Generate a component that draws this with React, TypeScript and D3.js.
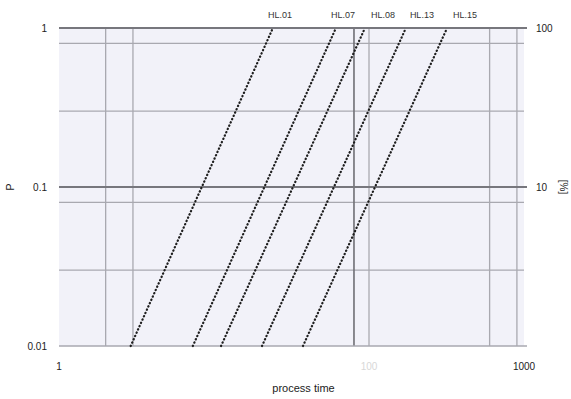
import React, { useEffect, useRef } from 'react';
import * as d3 from 'd3';

// series: x at y = 0.01 and at y = 1
const seriesNames = ['HL.01', 'HL.07', 'HL.08', 'HL.13', 'HL.15'];
const xAtLow = [2.9, 7.3, 11.1, 20.4, 37.5];
const xAtHigh = [24.0, 61.2, 94.2, 173, 319];
const yLow = 0.01;
const yHigh = 1;

const xTicks = [1, 100, 1000];
const xTickLabels = ['1', '100', '1000'];
const xMinorGrid = [2, 3, 100, 600, 900];
const xRefLine = 80;

const yTicks = [1, 0.1, 0.01];
const yTickLabels = ['1', '0.1', '0.01'];
const yPctLabels = ['100', '10', ''];
const yMinorGrid = [0.8, 0.3, 0.08, 0.03];

const App = () => {
  const svgRef = useRef<SVGSVGElement>(null);

  useEffect(() => {
    const width = 571;
    const height = 399;
    const left = 59, right = 524, top = 28, bottom = 346;
    const font = 'Liberation Sans, Arial, sans-serif';

    const svg = d3.select(svgRef.current);
    svg.selectAll('*').remove();
    svg.attr('width', width).attr('height', height);

    const x = d3.scaleLog().domain([1, 1000]).range([left, right]);
    const y = d3.scaleLog().domain([0.01, 1]).range([bottom, top]);

    // plot background
    svg.append('rect')
      .attr('x', left).attr('y', top)
      .attr('width', right - left).attr('height', bottom - top)
      .attr('fill', '#f2f2f9');

    // minor grid
    svg.selectAll('.hgrid')
      .data(yMinorGrid)
      .join('line')
      .attr('x1', left).attr('x2', right)
      .attr('y1', d => y(d)).attr('y2', d => y(d))
      .attr('stroke', '#a9a9b0').attr('stroke-width', 1.3);

    svg.selectAll('.vgrid')
      .data(xMinorGrid)
      .join('line')
      .attr('x1', d => x(d)).attr('x2', d => x(d))
      .attr('y1', top).attr('y2', bottom)
      .attr('stroke', '#a9a9b0').attr('stroke-width', 1.3);

    // reference line
    svg.append('line')
      .attr('x1', x(xRefLine)).attr('x2', x(xRefLine))
      .attr('y1', top).attr('y2', bottom)
      .attr('stroke', '#6f6f75').attr('stroke-width', 1.6);

    // major horizontal lines
    svg.selectAll('.hmajor')
      .data(yTicks)
      .join('line')
      .attr('x1', left).attr('x2', right + 3)
      .attr('y1', d => y(d)).attr('y2', d => y(d))
      .attr('stroke', (d, i) => (i === 2 ? '#a9a9b0' : '#77777d'))
      .attr('stroke-width', (d, i) => (i === 2 ? 1.3 : 2));

    // dotted series lines
    const line = d3.line<[number, number]>()
      .x(d => x(d[0]))
      .y(d => y(d[1]));

    seriesNames.forEach((name, i) => {
      const pts: [number, number][] = [[xAtLow[i], yLow], [xAtHigh[i], yHigh]];
      svg.append('path')
        .attr('d', line(pts))
        .attr('fill', 'none')
        .attr('stroke', '#1e1e1e')
        .attr('stroke-width', 2.2)
        .attr('stroke-linecap', 'round')
        .attr('stroke-dasharray', '0.4,3.2');
    });

    // series labels above the plot
    const labelDx = [7, 7, 18, 16, 18];
    svg.selectAll('.slabel')
      .data(seriesNames)
      .join('text')
      .attr('x', (d, i) => x(xAtHigh[i]) + labelDx[i])
      .attr('y', 18)
      .attr('text-anchor', 'middle')
      .attr('font-family', font)
      .attr('font-size', 9)
      .attr('fill', '#333')
      .text(d => d);

    // left y labels
    svg.selectAll('.ylab')
      .data(yTicks)
      .join('text')
      .attr('x', 47).attr('y', d => y(d) + 4)
      .attr('text-anchor', 'end')
      .attr('font-family', font).attr('font-size', 10)
      .attr('fill', '#222')
      .text((d, i) => yTickLabels[i]);

    // right y labels (percent)
    svg.selectAll('.ypct')
      .data(yTicks)
      .join('text')
      .attr('x', 536).attr('y', d => y(d) + 4)
      .attr('font-family', font).attr('font-size', 10)
      .attr('fill', '#222')
      .text((d, i) => yPctLabels[i]);

    // x labels
    svg.selectAll('.xlab')
      .data(xTicks)
      .join('text')
      .attr('x', d => x(d)).attr('y', 370)
      .attr('text-anchor', 'middle')
      .attr('font-family', font).attr('font-size', 10)
      .attr('fill', (d, i) => (i === 1 ? '#d8d8d8' : '#222'))
      .text((d, i) => xTickLabels[i]);

    // axis titles
    svg.append('text')
      .attr('transform', `translate(14, ${y(0.1)}) rotate(-90)`)
      .attr('text-anchor', 'middle')
      .attr('font-family', font).attr('font-size', 11)
      .attr('fill', '#222')
      .text('P');

    svg.append('text')
      .attr('transform', `translate(560, ${y(0.1)}) rotate(90)`)
      .attr('text-anchor', 'middle')
      .attr('font-family', font).attr('font-size', 10)
      .attr('fill', '#222')
      .text('[%]');

    svg.append('text')
      .attr('x', (left + right) / 2 + 12).attr('y', 392)
      .attr('text-anchor', 'middle')
      .attr('font-family', font).attr('font-size', 11)
      .attr('fill', '#222')
      .text('process time');
  }, []);

  return <svg ref={svgRef} style={{ position: 'absolute', left: 0, top: 0 }}></svg>;
};

export default App;
